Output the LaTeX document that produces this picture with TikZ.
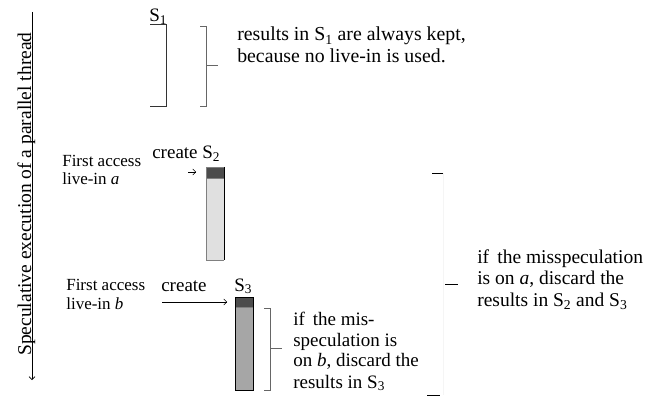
\documentclass[tikz,border=0pt]{standalone}
\usepackage{fontspec}
\setmainfont{Liberation Serif}
\usetikzlibrary{arrows.meta, positioning}

\begin{document}
\begin{tikzpicture}[
    x=1pt, y=-1pt, semithick,
    txt/.style={inner sep=0pt, align=left, anchor=base west,
      font=\fontsize{19.5}{21.5}\selectfont},
    acc/.style={inner sep=0pt, align=left, anchor=base west,
      font=\fontsize{17}{18.5}\selectfont},
    lbl/.style={inner sep=0pt, anchor=base west, font=\fontsize{19}{21}\selectfont},
    brace/.style={draw=black!60, thin},
    bar/.style={draw=black!50, line width=0.6pt}]

    % frame
    \useasboundingbox (0,0) rectangle (659,398);

    % time axis
    \coordinate (top) at (32,12);
    \coordinate (bot) at (32,380);
    \draw[-{Straight Barb[length=3pt]}, line width=0.7pt] (top) -- (bot);
    \node[inner sep=0pt, anchor=base west, rotate=90, font=\fontsize{19.5}{21}\selectfont]
      (axis) at (31,356) {Speculative execution of a parallel thread};

    % S1
    \node[lbl] (s1) at (149,22) {S\textsubscript{1}};
    \draw[line width=0.9pt, black!80] (150,24) -- (166,24) -- (166,106) -- (150,106);
    \draw[brace] (200,26) -- (206,26) -- (206,106) -- (200,106)
                 (206,65) -- (218,65);
    \node[txt, font=\fontsize{19.8}{22}\selectfont] (keep) at (237,63)
      {results in S\textsubscript{1} are always kept,\\because no live-in is used.};

    % S2
    \node[acc] (acca) at (62,185) {First access\\live-in \textit{a}};
    \node[lbl] (cra) at (152,159) {create};
    \node[lbl] (s2) at (202,159) {S\textsubscript{2}};
    \coordinate (a1) at (188,172);
    \coordinate (a2) at (196,172);
    \draw[-{Straight Barb[length=3pt]}, thin] (a1) -- (a2);
    \fill[black!12] (206,178) rectangle (224,260);
    \fill[black!70] (206,167) rectangle (224,178);
    \draw[bar] (206,178) -- (224,178);
    \draw[bar] (224,167) -- (206,167) -- (206,260) -- (224,260);
    \draw[line width=1pt] (224,167) -- (224,260);

    % S3
    \node[acc] (accb) at (66,309) {First access\\live-in \textit{b}};
    \node[lbl] (crb) at (161,291) {create};
    \node[lbl] (s3) at (234,291) {S\textsubscript{3}};
    \coordinate (b1) at (162,302);
    \coordinate (b2) at (227,302);
    \draw[-{Straight Barb[length=3pt]}, thin] (b1) -- (b2);
    \fill[black!35] (235,307) rectangle (253,390);
    \fill[black!70] (235,297) rectangle (253,307);
    \draw[bar] (235,307) -- (253,307);
    \draw[line width=0.8pt] (235,297) rectangle (253,390);
    \draw[brace] (264,308) -- (270,308) -- (270,390) -- (264,390)
                 (270,348) -- (282,348);
    \node[txt, font=\fontsize{19}{21}\selectfont] (misb) at (293,388)
      {if\, the mis-\\speculation is\\on \textit{b}, discard the\\results in S\textsubscript{3}};

    % S2 and S3
    \draw[black!4, thin] (443,173) -- (443,395);
    \draw[line width=0.8pt] (432,173) -- (443,173)
                            (445,284) -- (458,284)
                            (427,395) -- (440,395);
    \node[txt] (misa) at (477,306) {if\, the misspeculation\\is on \textit{a}, discard the\\results in S\textsubscript{2} and S\textsubscript{3}};
\end{tikzpicture}
\end{document}
